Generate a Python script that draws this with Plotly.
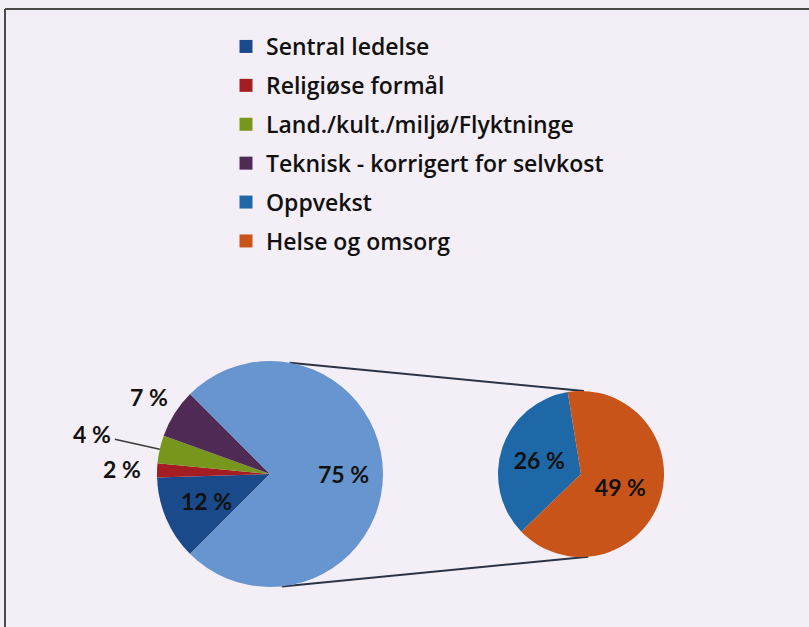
import math
import plotly.graph_objects as go

# ---- data ----
main_labels = ["Sentral ledelse", "Religiøse formål", "Land./kult./miljø/Flyktninge",
               "Teknisk - korrigert for selvkost", "Oppvekst og Helse og omsorg"]
main_values = [12, 2, 4, 7, 75]
sub_labels = ["Oppvekst", "Helse og omsorg"]
sub_values = [26, 49]

main_colors = ["#1B4A8A", "#A31D22", "#76961C", "#4F2A55", "#6795CF"]
sub_colors = ["#1E68A8", "#C9541A"]
legend_labels = main_labels[:4] + sub_labels
legend_colors = main_colors[:4] + sub_colors

W, H = 809, 627
BG = "#F4EFF6"
FONT = "Lato"
LFONT = "Open Sans"

# pie geometry (pixels)
c1, r1 = (270, 474), 113
c2, r2 = (581, 474), 83
rot1, rot2 = 225, 226

# label distance from the centre of the main pie, as a fraction of its radius
label_dist = [0.61, 1 + 35 / 113, 1 + 69 / 113, 1 + 30 / 113, 0.65]
leader = {2}


def domain(c, r):
    cx, cy = c
    return dict(x=[(cx - r) / W, (cx + r) / W], y=[(H - cy - r) / H, (H - cy + r) / H])


def pt(c, r, deg):
    a = math.radians(deg)
    return (c[0] + r * math.sin(a)) / W, 1 - (c[1] - r * math.cos(a)) / H


fig = go.Figure()

fig.add_trace(go.Pie(
    labels=main_labels, values=main_values, sort=False, direction="clockwise",
    rotation=rot1, domain=domain(c1, r1), showlegend=False,
    marker=dict(colors=main_colors, line=dict(width=0)),
    textinfo="none",
    hoverinfo="label+value",
))

fig.add_trace(go.Pie(
    labels=sub_labels, values=sub_values, sort=False, direction="clockwise",
    rotation=rot2, domain=domain(c2, r2), showlegend=False,
    marker=dict(colors=sub_colors, line=dict(width=0)),
    texttemplate="%{value} %", textposition="inside",
    insidetextorientation="horizontal",
    insidetextfont=dict(family=FONT, size=23, color="#111111", weight="bold"),
    hoverinfo="label+value",
))

for lab, col in zip(legend_labels, legend_colors):
    fig.add_trace(go.Scatter(
        x=[None], y=[None], mode="markers", name=lab, legendgroup=lab,
        marker=dict(symbol="square", size=13, color=col),
    ))

# main-pie labels placed at the mid-angle of their slice
lab_font = dict(family=FONT, size=23, color="#111111", weight="bold")
annotations = []
total = sum(main_values)
start = rot1
for i, v in enumerate(main_values):
    span = 360 * v / total
    mid = start + span / 2
    start += span
    lx, ly = pt(c1, r1 * label_dist[i], mid)
    txt = f"{v} %"
    if i in leader:
        ex, ey = pt(c1, r1, mid)
        annotations.append(dict(
            x=ex, y=ey, xref="paper", yref="paper", text=txt, showarrow=True,
            ax=(lx - ex) * W, ay=-(ly - ey) * H, arrowhead=0, arrowwidth=1.5,
            arrowcolor="#3a3a3a", standoff=0, startstandoff=2, font=lab_font))
    else:
        annotations.append(dict(
            x=lx, y=ly, xref="paper", yref="paper", text=txt, showarrow=False,
            xanchor="center", yanchor="middle", font=lab_font))

shapes = []
# frame
shapes.append(dict(type="line", xref="paper", yref="paper", x0=5 / W, x1=5 / W,
                   y0=0, y1=1 - 9 / H, line=dict(color="#4a4a4a", width=2)))
shapes.append(dict(type="line", xref="paper", yref="paper", x0=5 / W, x1=1,
                   y0=1 - 9 / H, y1=1 - 9 / H, line=dict(color="#4a4a4a", width=2)))
# connectors between the two pies
for a1, a2 in [(10, 2), (174, 175)]:
    xa, ya = pt(c1, r1, a1)
    xb, yb = pt(c2, r2, a2)
    shapes.append(dict(type="line", xref="paper", yref="paper", x0=xa, y0=ya,
                       x1=xb, y1=yb, layer="below",
                       line=dict(color="#2B3347", width=2)))

fig.update_layout(
    width=W, height=H, margin=dict(l=0, r=0, t=0, b=0),
    paper_bgcolor=BG, plot_bgcolor=BG,
    xaxis=dict(visible=False), yaxis=dict(visible=False),
    showlegend=True,
    legend=dict(x=226 / W, y=1 - 25 / H, xanchor="left", yanchor="top",
                bgcolor="rgba(0,0,0,0)", tracegroupgap=6,
                font=dict(family=LFONT, size=23, color="#111111", weight=600)),
    shapes=shapes, annotations=annotations,
)

fig.write_html("out.html", config={"displayModeBar": False},
               post_script="document.body.style.margin='0px';document.body.style.padding='0px';")
